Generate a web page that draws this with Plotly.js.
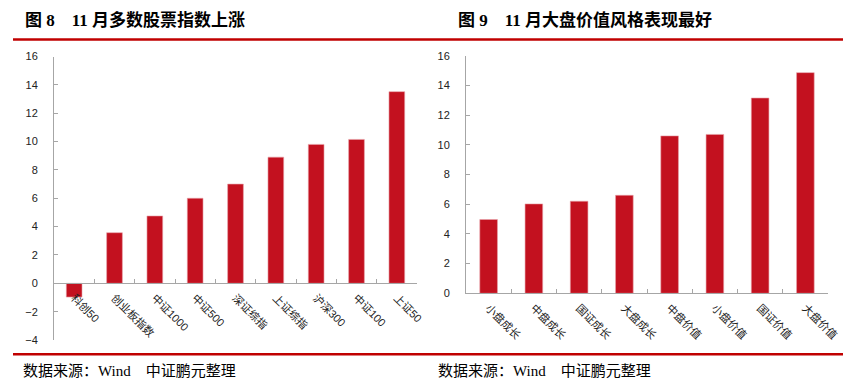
<!DOCTYPE html>
<html>
<head>
<meta charset="utf-8">
<script src="https://cdn.plot.ly/plotly-3.0.1.min.js"></script>
<style>
html,body{margin:0;padding:0;background:#fff;}
#chart{width:859px;height:389px;}
</style>
</head>
<body>
<div id="chart"></div>
<script>
// Data
const leftTitle = "<b>图 8　11 月多数股票指数上涨</b>";
const leftCategories = ["科创50","创业板指数","中证1000","中证500","深证综指","上证综指","沪深300","中证100","上证50"];
const leftValues = [-0.97, 3.57, 4.75, 6.0, 7.0, 8.9, 9.8, 10.15, 13.52];
const leftTicks = [-4,-2,0,2,4,6,8,10,12,14,16];

const rightTitle = "<b>图 9　11 月大盘价值风格表现最好</b>";
const rightCategories = ["小盘成长","中盘成长","国证成长","大盘成长","中盘价值","小盘价值","国证价值","大盘价值"];
const rightValues = [4.97, 6.02, 6.2, 6.6, 10.6, 10.7, 13.15, 14.86];
const rightTicks = [0,2,4,6,8,10,12,14,16];

const sourceText = "数据来源：Wind　中证鹏元整理";

const W = 859, H = 389;
const px = v => v / W;
const py = v => 1 - v / H;

const RED = "#C3111F";
const LINE_RED = "#C00000";
const AXIS = "#A6A6A6";
const tickFont = {family: "Liberation Sans, Arial, Noto Sans CJK SC", size: 11, color: "#222"};

// left geometry
const Ly0 = -4, Ly1 = 16;
const LyTop = 56.5, LyBot = 340;
const LzeroPx = LyBot - (0 - Ly0) / (Ly1 - Ly0) * (LyBot - LyTop);

const traces = [
  {type: "bar", x: leftCategories, y: leftValues, xaxis: "x", yaxis: "y",
   marker: {color: RED, line: {color: "#E7A3AA", width: 0.6}}, hoverinfo: "x+y"},
  {type: "bar", x: rightCategories, y: rightValues, xaxis: "x2", yaxis: "y2",
   marker: {color: RED, line: {color: "#E7A3AA", width: 0.6}}, hoverinfo: "x+y"}
];

const axCommon = {showgrid: false, zeroline: false, showline: true, linecolor: AXIS, linewidth: 1,
  ticks: "inside", ticklen: 4, tickcolor: AXIS, tickfont: tickFont, fixedrange: true};

const titleFont = {family: "Liberation Serif, Times New Roman, Noto Sans CJK SC", size: 17, color: "#000"};
const srcFont = {family: "Liberation Serif, Times New Roman, Noto Sans CJK SC", size: 15, color: "#000"};

const layout = {
  width: W, height: H,
  margin: {l: 0, r: 0, t: 0, b: 0},
  paper_bgcolor: "#fff", plot_bgcolor: "rgba(0,0,0,0)",
  showlegend: false,
  bargap: 0.61,
  xaxis: Object.assign({}, axCommon, {
    domain: [px(54), px(417)], anchor: "free", position: py(LzeroPx),
    type: "category", range: [-0.5, leftCategories.length - 0.5],
    tickson: "boundaries", tickangle: 45, ticklabelstandoff: 3
  }),
  yaxis: Object.assign({}, axCommon, {
    domain: [py(LyBot), py(LyTop)], anchor: "x", range: [Ly0, Ly1],
    tickvals: leftTicks, ticktext: leftTicks.map(v => v < 0 ? "\u2212" + Math.abs(v) : String(v)),
    ticklabelstandoff: 13
  }),
  xaxis2: Object.assign({}, axCommon, {
    domain: [px(466), px(828)], anchor: "y2",
    type: "category", range: [-0.5, rightCategories.length - 0.5],
    tickson: "boundaries", tickangle: 45, ticklabelstandoff: 3
  }),
  yaxis2: Object.assign({}, axCommon, {
    domain: [py(293.3), py(55.7)], anchor: "x2", range: [0, 16],
    tickvals: rightTicks, ticktext: rightTicks.map(String),
    ticklabelstandoff: 13
  }),
  shapes: [
    {type: "line", xref: "paper", yref: "paper", x0: px(13), x1: px(430), y0: py(39.5), y1: py(39.5), line: {color: LINE_RED, width: 2.5}},
    {type: "line", xref: "paper", yref: "paper", x0: px(13), x1: px(430), y0: py(354.3), y1: py(354.3), line: {color: LINE_RED, width: 2.5}},
    {type: "line", xref: "paper", yref: "paper", x0: px(430), x1: px(843), y0: py(39.5), y1: py(39.5), line: {color: LINE_RED, width: 2.5}},
    {type: "line", xref: "paper", yref: "paper", x0: px(430), x1: px(843), y0: py(354.3), y1: py(354.3), line: {color: LINE_RED, width: 2.5}}
  ],
  annotations: [
    {text: leftTitle, xref: "paper", yref: "paper", x: px(23), y: py(20), xanchor: "left", yanchor: "middle", showarrow: false, font: titleFont},
    {text: rightTitle, xref: "paper", yref: "paper", x: px(456), y: py(20), xanchor: "left", yanchor: "middle", showarrow: false, font: titleFont},
    {text: sourceText, xref: "paper", yref: "paper", x: px(21), y: py(371), xanchor: "left", yanchor: "middle", showarrow: false, font: srcFont},
    {text: sourceText, xref: "paper", yref: "paper", x: px(436), y: py(371), xanchor: "left", yanchor: "middle", showarrow: false, font: srcFont}
  ]
};

Plotly.newPlot("chart", traces, layout, {displayModeBar: false, staticPlot: true});
</script>
</body>
</html>
